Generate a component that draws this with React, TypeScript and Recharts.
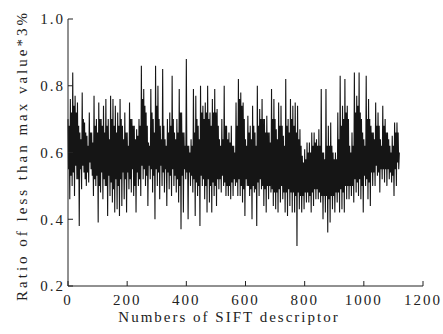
import { LineChart, Line, XAxis, YAxis } from "recharts";

// one reading every 2 descriptors:
// each group of four = peak, low edge of the dark band, high edge of the band, trough
const STEP = 2;
const ratio: number[] = [
  // 0 - 190
  0.70, 0.55, 0.68, 0.46, 0.76, 0.53, 0.72, 0.50, 0.84, 0.54, 0.74, 0.47, 0.77, 0.56, 0.72, 0.52,
  0.75, 0.52, 0.68, 0.38, 0.66, 0.55, 0.64, 0.49, 0.78, 0.56, 0.70, 0.54, 0.69, 0.52, 0.66, 0.50,
  0.65, 0.54, 0.62, 0.51, 0.72, 0.57, 0.66, 0.55, 0.66, 0.53, 0.63, 0.47, 0.77, 0.52, 0.68, 0.50,
  0.70, 0.53, 0.66, 0.39, 0.75, 0.50, 0.70, 0.48, 0.70, 0.54, 0.68, 0.46, 0.74, 0.52, 0.66, 0.50,
  0.76, 0.50, 0.68, 0.41, 0.70, 0.53, 0.64, 0.47, 0.77, 0.51, 0.70, 0.45, 0.76, 0.49, 0.68, 0.42,
  0.74, 0.52, 0.66, 0.43, 0.72, 0.50, 0.68, 0.41, 0.76, 0.52, 0.70, 0.44, 0.68, 0.54, 0.64, 0.46,
  // 192 - 382
  0.72, 0.52, 0.66, 0.42, 0.66, 0.54, 0.62, 0.49, 0.75, 0.52, 0.70, 0.48, 0.70, 0.55, 0.68, 0.47,
  0.68, 0.50, 0.64, 0.42, 0.67, 0.54, 0.65, 0.50, 0.70, 0.52, 0.68, 0.47, 0.86, 0.56, 0.76, 0.52,
  0.79, 0.55, 0.74, 0.50, 0.72, 0.53, 0.68, 0.44, 0.63, 0.56, 0.62, 0.52, 0.79, 0.55, 0.72, 0.48,
  0.70, 0.53, 0.66, 0.40, 0.86, 0.55, 0.74, 0.50, 0.80, 0.54, 0.70, 0.46, 0.68, 0.56, 0.64, 0.50,
  0.85, 0.54, 0.68, 0.48, 0.64, 0.55, 0.62, 0.44, 0.70, 0.54, 0.66, 0.49, 0.72, 0.53, 0.68, 0.47,
  0.83, 0.55, 0.70, 0.50, 0.66, 0.53, 0.64, 0.48, 0.70, 0.52, 0.66, 0.45, 0.79, 0.50, 0.72, 0.37,
  // 384 - 574
  0.72, 0.53, 0.66, 0.42, 0.66, 0.55, 0.62, 0.52, 0.88, 0.54, 0.62, 0.40, 0.62, 0.54, 0.60, 0.50,
  0.64, 0.53, 0.62, 0.48, 0.79, 0.52, 0.66, 0.41, 0.77, 0.51, 0.70, 0.47, 0.68, 0.50, 0.64, 0.38,
  0.80, 0.53, 0.72, 0.50, 0.74, 0.52, 0.70, 0.46, 0.75, 0.50, 0.72, 0.42, 0.80, 0.52, 0.70, 0.45,
  0.72, 0.50, 0.68, 0.42, 0.76, 0.51, 0.72, 0.47, 0.79, 0.50, 0.72, 0.44, 0.73, 0.52, 0.68, 0.49,
  0.64, 0.52, 0.62, 0.48, 0.70, 0.53, 0.64, 0.50, 0.80, 0.51, 0.68, 0.47, 0.68, 0.50, 0.64, 0.47,
  0.66, 0.50, 0.63, 0.46, 0.68, 0.51, 0.62, 0.47, 0.62, 0.52, 0.60, 0.50, 0.75, 0.51, 0.68, 0.47,
  // 576 - 758
  0.82, 0.52, 0.76, 0.47, 0.78, 0.50, 0.74, 0.45, 0.75, 0.49, 0.70, 0.41, 0.64, 0.52, 0.62, 0.50,
  0.71, 0.50, 0.66, 0.47, 0.68, 0.49, 0.64, 0.40, 0.74, 0.50, 0.68, 0.48, 0.66, 0.49, 0.62, 0.38,
  0.80, 0.51, 0.68, 0.47, 0.73, 0.52, 0.70, 0.49, 0.76, 0.50, 0.70, 0.44, 0.70, 0.49, 0.66, 0.42,
  0.71, 0.50, 0.66, 0.46, 0.66, 0.50, 0.63, 0.48, 0.79, 0.49, 0.70, 0.44, 0.76, 0.48, 0.70, 0.43,
  0.67, 0.48, 0.64, 0.42, 0.75, 0.49, 0.68, 0.45, 0.74, 0.50, 0.68, 0.46, 0.65, 0.48, 0.62, 0.42,
  0.82, 0.48, 0.68, 0.41, 0.70, 0.49, 0.66, 0.44, 0.76, 0.48, 0.70, 0.42,
  // 760 - 950
  0.74, 0.48, 0.68, 0.42, 0.75, 0.47, 0.66, 0.32, 0.74, 0.48, 0.64, 0.43, 0.67, 0.47, 0.62, 0.42,
  0.59, 0.47, 0.57, 0.43, 0.61, 0.48, 0.58, 0.45, 0.63, 0.48, 0.60, 0.45, 0.63, 0.47, 0.60, 0.42,
  0.66, 0.48, 0.62, 0.44, 0.66, 0.49, 0.63, 0.46, 0.64, 0.49, 0.62, 0.46, 0.67, 0.48, 0.62, 0.45,
  0.79, 0.47, 0.60, 0.40, 0.60, 0.47, 0.58, 0.42, 0.79, 0.47, 0.62, 0.36, 0.68, 0.46, 0.62, 0.39,
  0.69, 0.47, 0.62, 0.43, 0.60, 0.47, 0.58, 0.42, 0.60, 0.48, 0.58, 0.45, 0.72, 0.48, 0.64, 0.42,
  0.83, 0.49, 0.68, 0.43, 0.74, 0.48, 0.70, 0.42, 0.82, 0.50, 0.72, 0.46, 0.74, 0.50, 0.70, 0.46,
  // 952 - 1120
  0.62, 0.50, 0.60, 0.47, 0.66, 0.50, 0.62, 0.45, 0.84, 0.52, 0.72, 0.48, 0.77, 0.51, 0.74, 0.47,
  0.84, 0.52, 0.72, 0.46, 0.70, 0.50, 0.66, 0.42, 0.64, 0.53, 0.62, 0.50, 0.83, 0.52, 0.70, 0.46,
  0.76, 0.51, 0.70, 0.44, 0.68, 0.54, 0.66, 0.50, 0.66, 0.54, 0.64, 0.50, 0.75, 0.56, 0.68, 0.53,
  0.72, 0.54, 0.68, 0.48, 0.64, 0.55, 0.62, 0.52, 0.74, 0.55, 0.68, 0.51, 0.70, 0.55, 0.66, 0.50,
  0.66, 0.55, 0.64, 0.52, 0.62, 0.54, 0.60, 0.51, 0.65, 0.53, 0.62, 0.47, 0.69, 0.55, 0.66, 0.50,
  0.69, 0.57, 0.66, 0.55, 0.60,
];

const xTicks = [0, 200, 400, 600, 800, 1000, 1200];
const yTicks = [0.2, 0.4, 0.6, 0.8, 1.0];

const font = "'Liberation Serif', 'Times New Roman', serif";
const tickStyle = { fontSize: 15, fontFamily: font, fill: "#222", letterSpacing: 2 };

const data = ratio.map((v, i) => ({ n: i * STEP, r: v }));

export default function App() {
  return (
    <div style={{ position: "absolute", left: 0, top: 0, background: "#fff" }}>
      <LineChart width={443} height={334} data={data} margin={{ top: 19, right: 20, bottom: 0, left: 0 }}>
        <XAxis
          dataKey="n"
          type="number"
          domain={[0, 1200]}
          ticks={xTicks}
          height={48}
          stroke="#222"
          tickSize={-5}
          tickMargin={13}
          tick={tickStyle}
          label={{
            content: ({ viewBox }: any) => (
              <text x={viewBox.x + 161} y={viewBox.y + 36} textAnchor="middle" style={{ ...tickStyle }}>
                Numbers of SIFT descriptor
              </text>
            ),
          }}
        />
        <YAxis
          type="number"
          domain={[0.2, 1.0]}
          ticks={yTicks}
          tickFormatter={(v: number) => v.toFixed(1)}
          width={68}
          stroke="#222"
          tickSize={-5}
          tickMargin={8}
          tick={tickStyle}
          label={{
            content: ({ viewBox }: any) => (
              <text
                x={viewBox.x + 22}
                y={viewBox.y + viewBox.height / 2 + 3}
                textAnchor="middle"
                dominantBaseline="central"
                transform={`rotate(-90, ${viewBox.x + 22}, ${viewBox.y + viewBox.height / 2 + 3})`}
                style={{ ...tickStyle, letterSpacing: 3 }}
              >
                Ratio of less than max value*3%
              </text>
            ),
          }}
        />
        <Line dataKey="r" stroke="#151515" strokeWidth={1.1} dot={false} isAnimationActive={false} />
      </LineChart>
    </div>
  );
}
